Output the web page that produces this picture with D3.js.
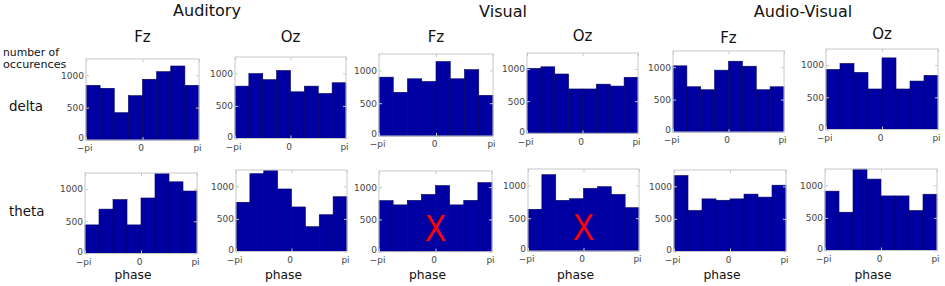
<!DOCTYPE html>
<html>
<head>
<meta charset="utf-8">
<script src="https://cdn.jsdelivr.net/npm/d3@7"></script>
<style>
  body { margin: 0; background: #fff; }
  svg { display: block; font-family: "DejaVu Sans", sans-serif; }
</style>
</head>
<body>
<div id="chart"></div>
<script>
"use strict";

/* global d3 */

// data (counts per phase bin, 8 bins from -pi to pi)
var conditions = ["Auditory", "Visual", "Audio-Visual"];
var channels = ["Fz", "Oz"];
var bands = ["delta", "theta"];
var phaseTicks = [-Math.PI, 0, Math.PI];
var phaseTickLabels = ["\u2212pi", "0", "pi"];
var countTicks = [0, 500, 1000];
var countMax = 1250;

var deltaAudFz = [844, 798, 421, 684, 937, 1054, 1142, 844];
var deltaAudOz = [803, 995, 902, 1042, 716, 803, 690, 855];
var deltaVisFz = [897, 666, 872, 831, 1134, 872, 1011, 620];
var deltaVisOz = [1010, 1035, 923, 690, 690, 765, 735, 872];
var deltaAvFz = [1021, 698, 652, 954, 1092, 1015, 652, 698];
var deltaAvOz = [932, 1025, 886, 629, 1112, 629, 752, 840];

var thetaAudFz = [444, 689, 837, 444, 862, 1240, 1113, 970];
var thetaAudOz = [755, 1193, 1245, 959, 683, 380, 564, 840];
var thetaVisFz = [791, 725, 795, 887, 1024, 725, 795, 1070];
var thetaVisOz = [636, 1163, 772, 797, 955, 980, 863, 660];
var thetaAvFz = [1165, 630, 807, 786, 807, 880, 834, 1017];
var thetaAvOz = [910, 587, 1248, 1095, 837, 837, 613, 863];

var rows = [
  [deltaAudFz, deltaAudOz, deltaVisFz, deltaVisOz, deltaAvFz, deltaAvOz],
  [thetaAudFz, thetaAudOz, thetaVisFz, thetaVisOz, thetaAvFz, thetaAvOz]
];
// panels that got crossed out in the figure: [row, col]
var rejected = [[1, 2], [1, 3]];

// layout (pixel boxes of every panel)
var layout = {
  width: 945,
  height: 286,
  lefts: [[86, 235, 379, 527, 673, 826], [85, 236, 379, 528, 674, 825]],
  rights: [[199, 346, 493, 638, 784, 938], [197, 347, 492, 639, 786, 937]],
  tops: [[59, 57, 54, 53, 51, 49], [173, 170, 171, 169, 170, 169]],
  bottoms: [[140, 138.5, 136, 133.3, 132, 129.5], [253.5, 251.5, 251.7, 251, 251.5, 250.5]],
  condX: [207, 503, 803],
  condY: [16, 17, 17],
  chanY: [41.5, 41.5, 41.5, 41, 42.5, 39],
  bandY: [111, 216]
};

var barFill = "#0000a2";
var barEdge = "#00005e";
var frameColor = "#c8c8c8";
var tickText = "#444";

var svg = d3.select("#chart").append("svg")
  .attr("width", layout.width)
  .attr("height", layout.height);

// condition headers
conditions.forEach(function (c, i) {
  svg.append("text")
    .attr("x", layout.condX[i]).attr("y", layout.condY[i])
    .attr("text-anchor", "middle")
    .attr("font-size", 16).attr("fill", "#111")
    .text(c);
});

// y label
svg.append("text").attr("x", 3).attr("y", 55.5)
  .attr("font-size", 10.8).attr("fill", "#111").text("number of");
svg.append("text").attr("x", 3).attr("y", 67.5)
  .attr("font-size", 11.2).attr("fill", "#111").text("occurences");

// band labels
bands.forEach(function (b, r) {
  svg.append("text")
    .attr("x", 9).attr("y", layout.bandY[r])
    .attr("font-size", 13.4).attr("fill", "#111")
    .text(b);
});

rows.forEach(function (row, r) {
  row.forEach(function (values, c) {
    var left = layout.lefts[r][c];
    var right = layout.rights[r][c];
    var top = layout.tops[r][c];
    var bottom = layout.bottoms[r][c];

    var x = d3.scaleLinear().domain([-Math.PI, Math.PI]).range([left, right]);
    var y = d3.scaleLinear().domain([0, countMax]).range([bottom, top]);
    var binW = 2 * Math.PI / values.length;

    var g = svg.append("g");

    // channel title above the top row
    if (r === 0) {
      g.append("text")
        .attr("x", x(0)).attr("y", layout.chanY[c])
        .attr("text-anchor", "middle")
        .attr("font-size", 15).attr("fill", "#111")
        .text(channels[c % 2]);
    }

    g.selectAll("rect.bar").data(values).enter().append("rect")
      .attr("class", "bar")
      .attr("x", function (d, i) { return x(-Math.PI + i * binW); })
      .attr("width", function (d, i) { return x(-Math.PI + (i + 1) * binW) - x(-Math.PI + i * binW); })
      .attr("y", function (d) { return y(d); })
      .attr("height", function (d) { return y(0) - y(d); })
      .attr("fill", barFill)
      .attr("stroke", barEdge)
      .attr("stroke-width", 0.6);

    // frame
    g.append("rect")
      .attr("x", left).attr("y", top)
      .attr("width", right - left).attr("height", bottom - top)
      .attr("fill", "none").attr("stroke", frameColor).attr("stroke-width", 1);

    // axes with inward ticks
    var yAxis = g.append("g").attr("transform", "translate(" + left + ",0)")
      .call(d3.axisLeft(y).tickValues(countTicks).tickSize(-3).tickPadding(2)
        .tickFormat(d3.format("d")));
    var xAxis = g.append("g").attr("transform", "translate(0," + bottom + ")")
      .call(d3.axisBottom(x).tickValues(phaseTicks).tickSize(-3).tickPadding(5)
        .tickFormat(function (d, i) { return phaseTickLabels[i]; }));
    g.append("g").attr("transform", "translate(0," + top + ")")
      .call(d3.axisTop(x).tickValues(phaseTicks).tickSize(-3).tickFormat(""));
    g.append("g").attr("transform", "translate(" + right + ",0)")
      .call(d3.axisRight(y).tickValues(countTicks).tickSize(-3).tickFormat(""));

    g.selectAll(".domain").remove();
    g.selectAll(".tick line").attr("stroke", frameColor);
    [yAxis, xAxis].forEach(function (a) {
      a.selectAll("text")
        .attr("font-family", "DejaVu Sans, sans-serif")
        .attr("font-size", 9)
        .attr("fill", tickText);
    });
    xAxis.selectAll("text").attr("dx", -2);
    // lift the bottom "0" a little, as it sits on top of "-pi"
    yAxis.selectAll(".tick text").filter(function (d) { return d === 0; })
      .attr("dy", "0.1em");

    if (r === 1) {
      g.append("text")
        .attr("x", x(0) - 8).attr("y", 279)
        .attr("text-anchor", "middle")
        .attr("font-size", 12.3).attr("fill", "#111")
        .text("phase");
    }

    var isRejected = rejected.some(function (p) { return p[0] === r && p[1] === c; });
    if (isRejected) {
      g.append("text")
        .attr("x", x(0)).attr("y", y(360))
        .attr("text-anchor", "middle")
        .attr("dominant-baseline", "central")
        .attr("font-family", "Liberation Sans, sans-serif")
        .attr("font-size", 37)
        .attr("textLength", 21).attr("lengthAdjust", "spacingAndGlyphs")
        .attr("fill", "#ff0000")
        .text("X");
    }
  });
});
</script>
</body>
</html>
